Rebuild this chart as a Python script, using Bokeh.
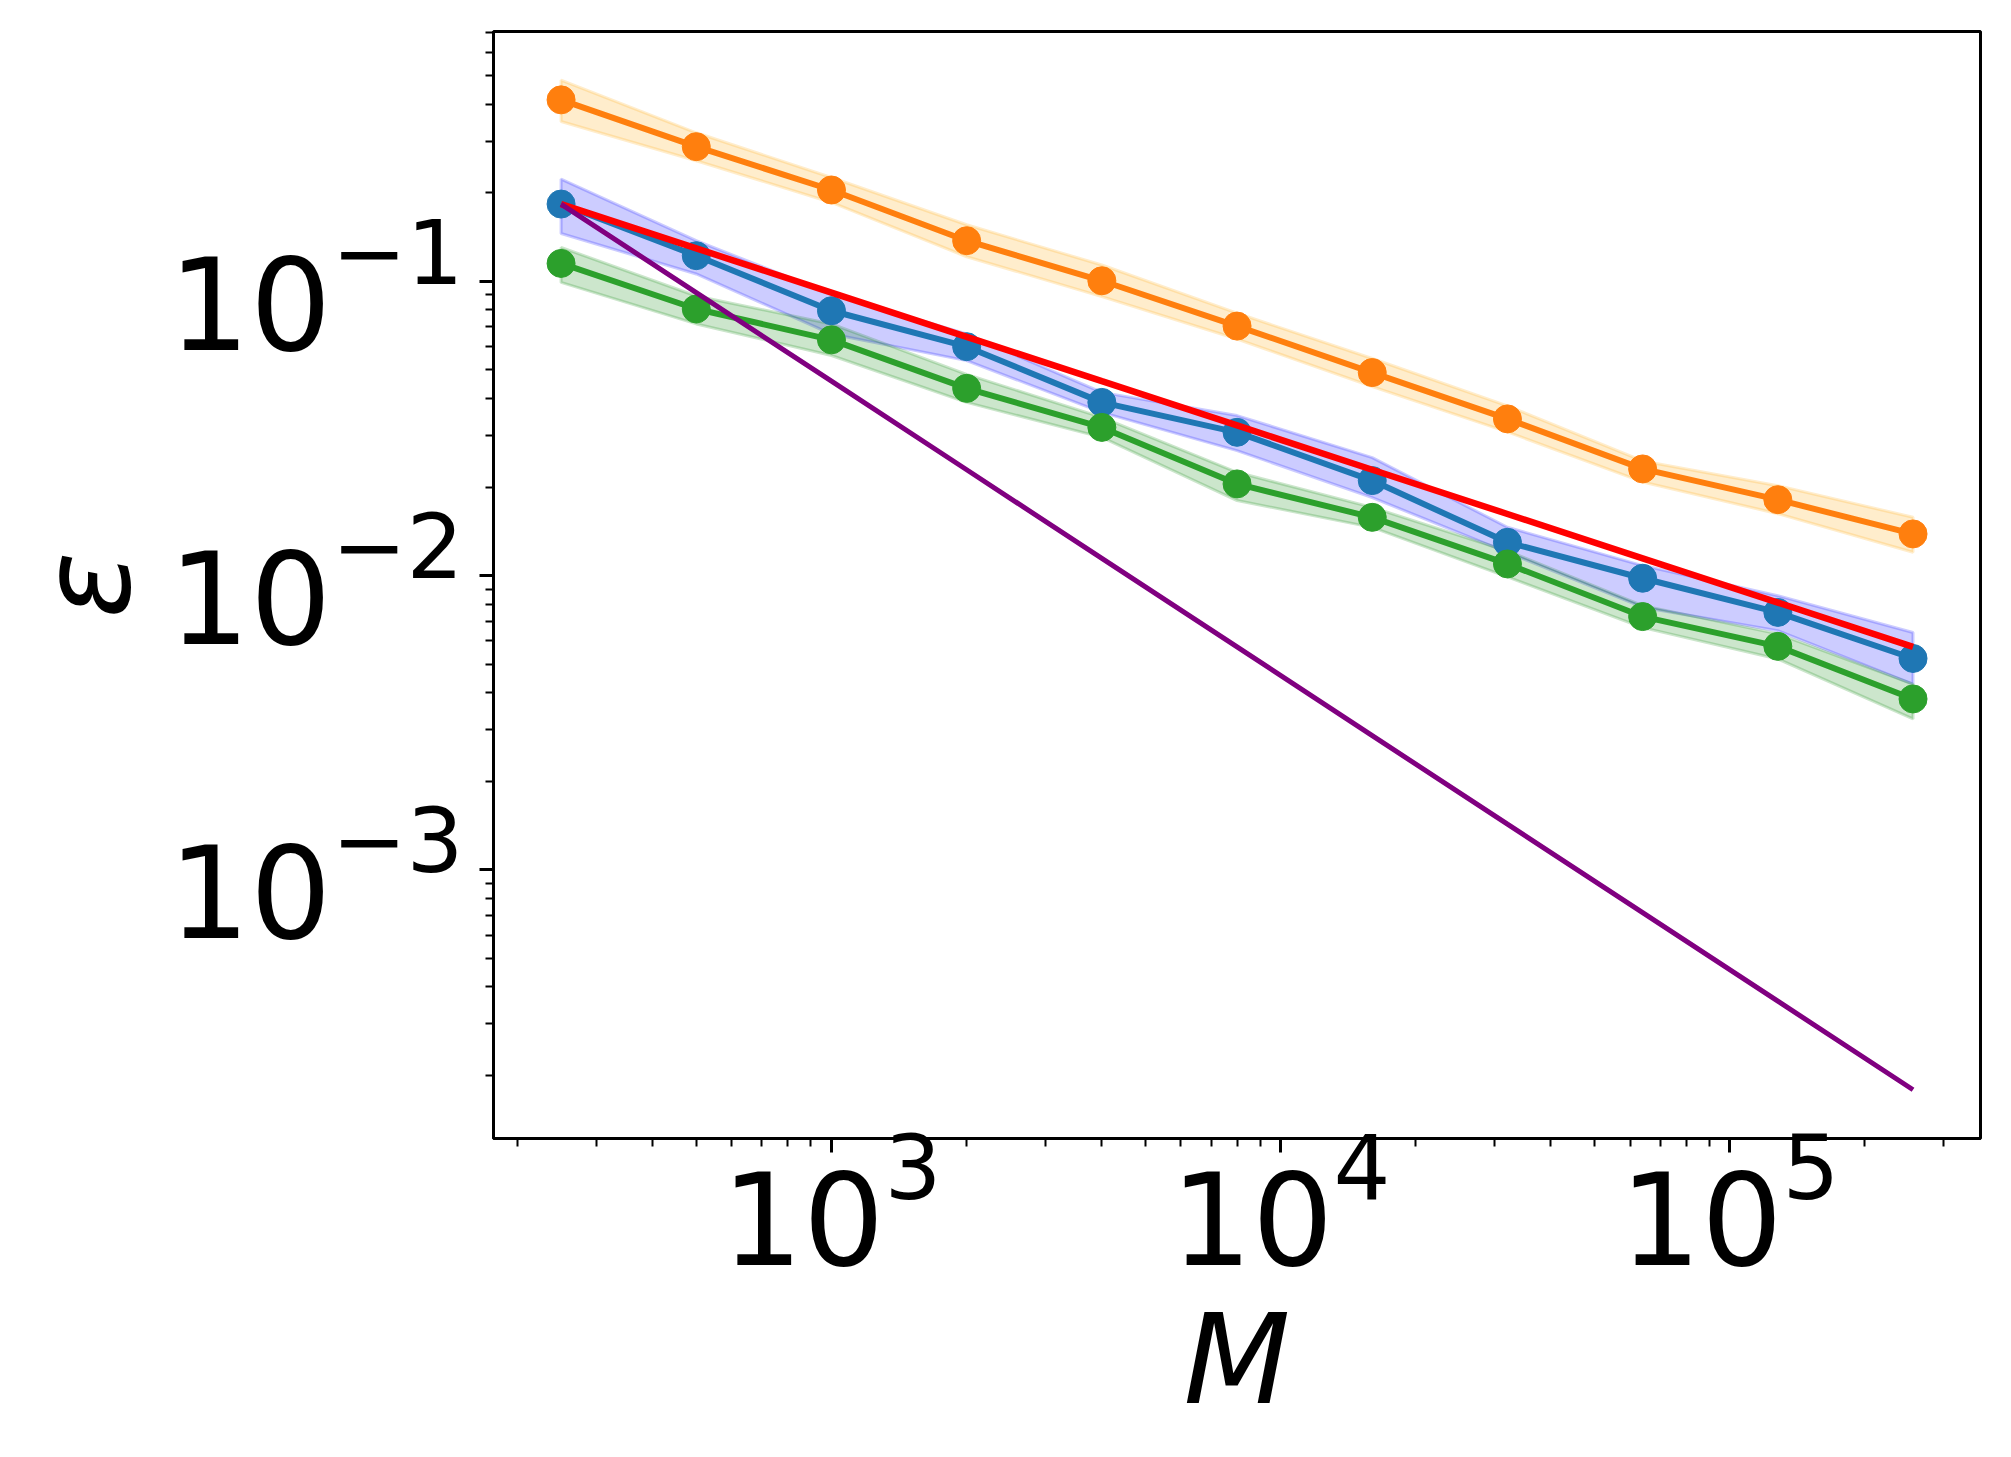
from bokeh.plotting import figure
from bokeh.models import Range1d, FixedTicker, LogTickFormatter
from bokeh.embed import file_html
from bokeh.resources import INLINE

# sample sizes
M = [250, 500, 1000, 2000, 4000, 8000, 16000, 32000, 64000, 128000, 256000]

# mean error and spread for each estimator
eps_orange = [0.414, 0.287, 0.2045, 0.1375, 0.1005, 0.0705, 0.0490, 0.0341, 0.02305, 0.01812, 0.01386]
orange_lo = [0.3494, 0.2572, 0.1855, 0.1213, 0.0888, 0.0637, 0.0439, 0.0308, 0.02082, 0.01624, 0.01201]
orange_hi = [0.483, 0.320, 0.2255, 0.1558, 0.1137, 0.0780, 0.0547, 0.03775, 0.02454, 0.02022, 0.01579]

eps_blue = [0.1832, 0.1223, 0.0795, 0.0600, 0.0388, 0.0307, 0.02104, 0.01298, 0.0098, 0.0075, 0.00523]
blue_lo = [0.1455, 0.1060, 0.06625, 0.0538, 0.03588, 0.0266, 0.01842, 0.0120, 0.00781, 0.0065, 0.00428]
blue_hi = [0.2228, 0.1375, 0.0906, 0.0663, 0.04196, 0.0350, 0.02519, 0.0146, 0.01082, 0.00855, 0.00641]

eps_green = [0.1151, 0.0806, 0.0633, 0.0433, 0.0319, 0.0205, 0.01578, 0.01096, 0.00726, 0.00575, 0.00381]
green_lo = [0.0992, 0.0717, 0.0560, 0.0388, 0.0295, 0.0180, 0.01459, 0.0099, 0.00666, 0.00521, 0.00326]
green_hi = [0.1305, 0.0892, 0.0717, 0.0483, 0.0345, 0.02245, 0.01706, 0.01213, 0.00791, 0.00634, 0.00428]

# reference rates: M^(-1/2) and M^(-1)
ref_half = [0.1832, 0.1295, 0.0916, 0.0648, 0.0458, 0.0324, 0.0229, 0.0162, 0.01145, 0.0081, 0.00573]
ref_one = [0.1832, 0.0916, 0.0458, 0.0229, 0.01145, 0.00573, 0.00286, 0.00143, 0.000716, 0.000358, 0.000179]

x_major = [1e3, 1e4, 1e5]
y_major = [1e-3, 1e-2, 1e-1]

FONT = "DejaVu Sans"

p = figure(
    width=2011, height=1457,
    x_axis_type="log", y_axis_type="log",
    x_range=Range1d(176.8, 361800), y_range=Range1d(1.222e-4, 0.7069),
    output_backend="svg", toolbar_location=None,
    min_border_left=493, min_border_right=31,
    min_border_top=31, min_border_bottom=319,
)
p.background_fill_color = "white"
p.border_fill_color = "white"
p.outline_line_color = "black"
p.outline_line_width = 3
p.grid.visible = False

# minor ticks at 2..9 times each power of ten inside the ranges
x_minor = [m * 10 ** e for e in range(2, 6) for m in range(2, 10)
           if 176.8 <= m * 10 ** e <= 361800]
y_minor = [m * 10.0 ** e for e in range(-4, 0) for m in range(2, 10)
           if 1.222e-4 <= m * 10.0 ** e <= 0.7069]

p.xaxis.ticker = FixedTicker(ticks=x_major, minor_ticks=x_minor)
p.yaxis.ticker = FixedTicker(ticks=y_major, minor_ticks=y_minor)
p.xaxis.formatter = LogTickFormatter()
p.yaxis.formatter = LogTickFormatter()

for ax in (p.xaxis[0], p.yaxis[0]):
    ax.axis_line_width = 3
    ax.major_tick_line_width = 3
    ax.minor_tick_line_width = 2
    ax.major_tick_out = 14
    ax.major_tick_in = 0
    ax.minor_tick_out = 8
    ax.minor_tick_in = 0
    ax.major_label_text_font = FONT
    ax.major_label_text_font_size = "128px"
    ax.major_label_text_color = "black"
    ax.axis_label_text_font = FONT
    ax.axis_label_text_font_size = "124px"
    ax.axis_label_text_font_style = "italic"
    ax.axis_label_text_color = "black"

p.xaxis.axis_label = "M"
p.yaxis.axis_label = "ε"
p.xaxis.major_label_standoff = -25
p.yaxis.major_label_standoff = 16
p.xaxis.axis_label_standoff = 20
p.yaxis.axis_label_standoff = 8

# shaded spread bands
band_x = M + M[::-1]
for lo, hi, col in ((orange_lo, orange_hi, "#FFA500"),
                    (blue_lo, blue_hi, "#0000FF"),
                    (green_lo, green_hi, "#008000")):
    p.patch(band_x, hi + lo[::-1], fill_color=col, fill_alpha=0.2,
            line_color=col, line_alpha=0.2, line_width=3)

# mean error curves with markers
for ys, col in ((eps_orange, "#ff7f0e"), (eps_blue, "#1f77b4"), (eps_green, "#2ca02c")):
    p.line(M, ys, line_color=col, line_width=6)
    p.scatter(M, ys, size=28, fill_color=col, line_color=col)

# reference slopes
p.line(M, ref_half, line_color="#ff0000", line_width=6.5)
p.line(M, ref_one, line_color="#800080", line_width=5)

open("out.html", "w").write(file_html(p, INLINE))
